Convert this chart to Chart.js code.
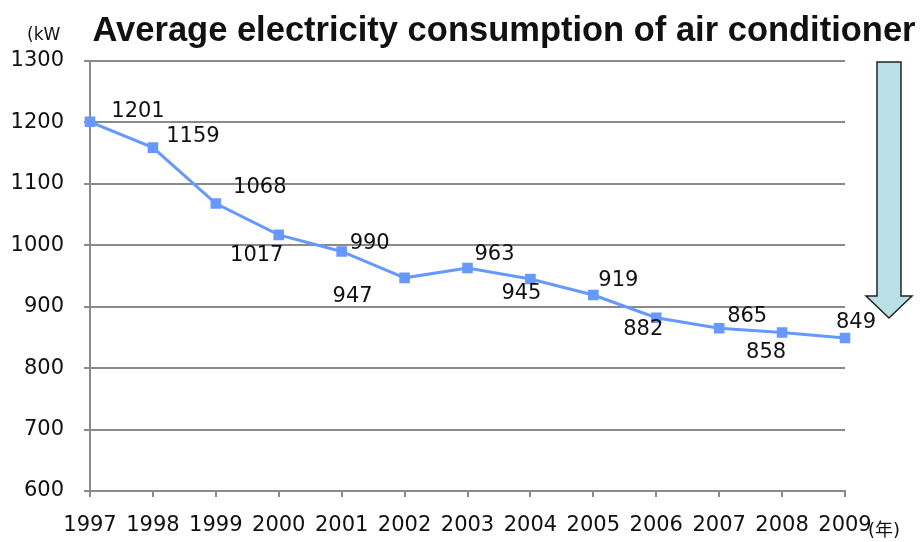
<!DOCTYPE html>
<html>
<head>
<meta charset="utf-8">
<script src="https://cdn.jsdelivr.net/npm/chart.js@4/dist/chart.umd.min.js"></script>
<style>
  html, body { margin: 0; padding: 0; background: #fff; }
  #wrap { width: 920px; height: 542px; position: relative; }
</style>
</head>
<body>
<div id="wrap"><canvas id="c" width="920" height="542"></canvas></div>
<script>
const years = ['1997', '1998', '1999', '2000', '2001', '2002', '2003', '2004', '2005', '2006', '2007', '2008', '2009'];
const consumption = [1201, 1159, 1068, 1017, 990, 947, 963, 945, 919, 882, 865, 858, 849];
const yTicks = [600, 700, 800, 900, 1000, 1100, 1200, 1300];

const titleText = 'Average electricity consumption of air conditioner';
const unitText = '(kW';
const yearUnitText = '(年)';

// Where each value label sits relative to its point (text centre, px)
const labelOffsets = [
  [48, -10], [40, -11], [44, -16], [-22, 21], [28, -8], [-52, 19], [27, -13],
  [-9, 14], [25, -14], [-13, 12], [28, -12], [-16, 20], [11, -15]
];

const FONT = '"DejaVu Sans", "Noto Sans CJK JP", sans-serif';
const LINE_COLOR = '#6699ff';
const GRID_COLOR = '#8a8a8a';

const decorations = {
  id: 'decorations',
  afterDatasetsDraw(chart) {
    const ctx = chart.ctx;
    const meta = chart.getDatasetMeta(0);
    ctx.save();
    // value labels
    ctx.font = '21px ' + FONT;
    ctx.fillStyle = '#111';
    ctx.textAlign = 'center';
    ctx.textBaseline = 'middle';
    meta.data.forEach((pt, i) => {
      const off = labelOffsets[i];
      ctx.fillText(String(consumption[i]), pt.x + off[0], pt.y + off[1]);
    });

    // title
    ctx.font = 'bold 34.5px "Liberation Sans", Arial, sans-serif';
    ctx.textAlign = 'center';
    ctx.fillText(titleText, 504, 31);

    // unit labels
    ctx.font = '17px ' + FONT;
    ctx.textAlign = 'left';
    ctx.fillText(unitText, 27, 36);
    ctx.font = '18px ' + FONT;
    ctx.fillText(yearUnitText, 868, 531);

    // downward arrow on the right
    ctx.beginPath();
    ctx.moveTo(877, 62);
    ctx.lineTo(901, 62);
    ctx.lineTo(901, 296);
    ctx.lineTo(912, 296);
    ctx.lineTo(889, 318);
    ctx.lineTo(866, 296);
    ctx.lineTo(877, 296);
    ctx.closePath();
    ctx.fillStyle = '#b9e0e4';
    ctx.fill();
    ctx.lineWidth = 1.5;
    ctx.strokeStyle = '#222';
    ctx.stroke();
    ctx.restore();
  }
};

new Chart(document.getElementById('c'), {
  type: 'line',
  data: {
    labels: years,
    datasets: [{
      data: consumption,
      borderColor: LINE_COLOR,
      backgroundColor: LINE_COLOR,
      borderWidth: 3,
      pointStyle: 'rect',
      pointRadius: 7.5,
      pointBorderWidth: 0,
      tension: 0,
      fill: false
    }]
  },
  options: {
    responsive: false,
    animation: false,
    devicePixelRatio: 1,
    layout: { padding: { top: 61, right: 75, bottom: 0, left: 0 } },
    plugins: {
      legend: { display: false },
      tooltip: { enabled: false },
      title: { display: false }
    },
    scales: {
      x: {
        offset: false,
        grid: {
          display: true,
          drawOnChartArea: false,
          drawTicks: true,
          tickLength: 6,
          color: GRID_COLOR,
          lineWidth: 2
        },
        border: { color: GRID_COLOR, width: 2 },
        ticks: {
          font: { family: FONT, size: 21 },
          color: '#111',
          padding: 16,
          maxRotation: 0,
          autoSkip: false
        },
        afterFit(scale) { scale.height = 51; }
      },
      y: {
        min: 600,
        max: 1300,
        afterBuildTicks(scale) { scale.ticks = yTicks.map(v => ({ value: v })); },
        grid: {
          color: GRID_COLOR,
          lineWidth: 2,
          tickLength: 6
        },
        border: { color: GRID_COLOR, width: 2 },
        ticks: {
          font: { family: FONT, size: 21 },
          color: '#111',
          padding: 20,
          callback: (v) => String(v)
        },
        afterFit(scale) { scale.width = 90; }
      }
    }
  },
  plugins: [decorations]
});
</script>
</body>
</html>
